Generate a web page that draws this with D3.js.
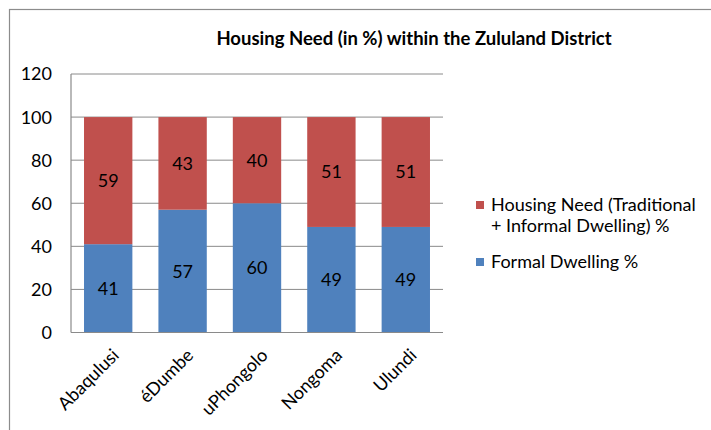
<!DOCTYPE html>
<html>
<head>
<meta charset="utf-8">
<script src="https://cdn.jsdelivr.net/npm/d3@7"></script>
<style>
  html, body { margin: 0; padding: 0; background: #fff; }
  svg { display: block; font-family: Lato, "Open Sans", sans-serif; }
</style>
</head>
<body>
<svg id="chart" width="711" height="430"></svg>
<script>
// Municipalities in the Zululand District
const categories = ["Abaqulusi", "éDumbe", "uPhongolo", "Nongoma", "Ulundi"];
// Share of households in formal dwellings (%)
const formalDwelling = [41, 57, 60, 49, 49];
// Housing need: traditional + informal dwellings (%)
const housingNeed = [59, 43, 40, 51, 51];
const yTicks = [0, 20, 40, 60, 80, 100, 120];

const seriesNames = ["Housing Need (Traditional + Informal Dwelling) %", "Formal Dwelling %"];
const colors = { need: "#C0504D", formal: "#4F81BD" };
const fontSize = 18;

const svg = d3.select("#chart");

// outer chart frame
svg.append("rect")
  .attr("x", 9.5).attr("y", 9.5)
  .attr("width", 710).attr("height", 440)
  .attr("fill", "none").attr("stroke", "#8c8c8c").attr("stroke-width", 1.2);

const plot = { left: 71, right: 443, top: 74, bottom: 332.5 };

const x = d3.scaleBand().domain(categories)
  .range([plot.left, plot.right]).paddingInner(0.35).paddingOuter(0.175);
const y = d3.scaleLinear().domain([0, 120]).range([plot.bottom, plot.top]);

// horizontal gridlines
svg.append("g").selectAll("line").data(yTicks.filter(d => d > 0)).join("line")
  .attr("x1", plot.left).attr("x2", plot.right)
  .attr("y1", d => y(d)).attr("y2", d => y(d))
  .attr("stroke", "#8a8a8a").attr("stroke-width", 1);

// y tick labels
svg.append("g").selectAll("text").data(yTicks).join("text")
  .attr("x", 52).attr("y", d => y(d))
  .attr("dy", "0.36em")
  .attr("text-anchor", "end")
  .attr("font-size", fontSize)
  .attr("fill", "#000")
  .text(d => d);

const rows = categories.map((c, i) => ({ cat: c, formal: formalDwelling[i], need: housingNeed[i] }));

// stacked bars: formal at the bottom, housing need on top
const bars = svg.append("g");
bars.selectAll("rect.formal").data(rows).join("rect")
  .attr("class", "formal")
  .attr("x", d => x(d.cat)).attr("width", x.bandwidth())
  .attr("y", d => y(d.formal)).attr("height", d => y(0) - y(d.formal))
  .attr("fill", colors.formal);
bars.selectAll("rect.need").data(rows).join("rect")
  .attr("class", "need")
  .attr("x", d => x(d.cat)).attr("width", x.bandwidth())
  .attr("y", d => y(d.formal + d.need)).attr("height", d => y(d.formal) - y(d.formal + d.need))
  .attr("fill", colors.need);

// value labels centred in each segment
const labels = svg.append("g").attr("font-size", fontSize).attr("text-anchor", "middle").attr("fill", "#000");
labels.selectAll("text.formal").data(rows).join("text")
  .attr("class", "formal")
  .attr("x", d => x(d.cat) + x.bandwidth() / 2)
  .attr("y", d => y(d.formal / 2)).attr("dy", "0.36em")
  .text(d => d.formal);
labels.selectAll("text.need").data(rows).join("text")
  .attr("class", "need")
  .attr("x", d => x(d.cat) + x.bandwidth() / 2)
  .attr("y", d => y(d.formal + d.need / 2)).attr("dy", "0.36em")
  .text(d => d.need);

// x axis line
svg.append("line")
  .attr("x1", plot.left).attr("x2", plot.right)
  .attr("y1", plot.bottom).attr("y2", plot.bottom)
  .attr("stroke", "#8a8a8a").attr("stroke-width", 1.2);
// y axis line
svg.append("line")
  .attr("x1", plot.left).attr("x2", plot.left)
  .attr("y1", plot.top).attr("y2", plot.bottom)
  .attr("stroke", "#8a8a8a").attr("stroke-width", 1.2);

// rotated category labels
svg.append("g").selectAll("text").data(categories).join("text")
  .attr("transform", d => `translate(${x(d) + x.bandwidth() / 2 + 3},${plot.bottom + 15}) rotate(-45)`)
  .attr("text-anchor", "end")
  .attr("dy", "0.7em")
  .attr("font-size", fontSize)
  .attr("fill", "#000")
  .text(d => d);

// title
svg.append("text")
  .attr("x", 414).attr("y", 45)
  .attr("text-anchor", "middle")
  .attr("font-size", 18.5).attr("font-weight", "bold")
  .attr("fill", "#000")
  .text("Housing Need (in %) within the Zululand District");

// legend
const legend = svg.append("g").attr("font-size", fontSize).attr("fill", "#000");
legend.append("rect").attr("x", 476).attr("y", 201).attr("width", 8).attr("height", 8).attr("fill", colors.need);
const needText = legend.append("text").attr("x", 491).attr("y", 211);
needText.append("tspan").attr("x", 491).text("Housing Need (Traditional");
needText.append("tspan").attr("x", 491).attr("dy", 21).text("+ Informal Dwelling) %");
legend.append("rect").attr("x", 476).attr("y", 258).attr("width", 8).attr("height", 8).attr("fill", colors.formal);
legend.append("text").attr("x", 491).attr("y", 268).text(seriesNames[1]);
</script>
</body>
</html>
